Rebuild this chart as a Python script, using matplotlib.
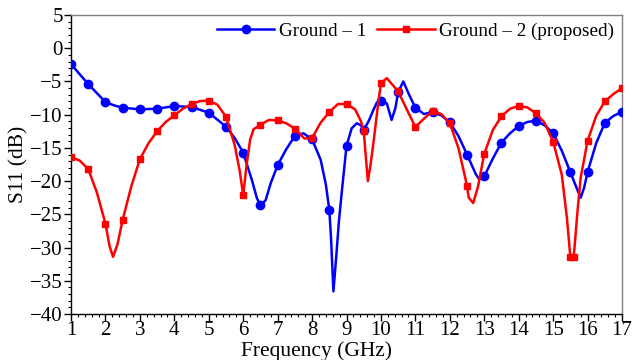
import matplotlib
matplotlib.use("Agg")
import matplotlib.pyplot as plt
from matplotlib.ticker import MultipleLocator

# ---- data ----
# Ground - 1 (blue): marker points (every 0.5 GHz)
g1_mk_f = [1.0, 1.5, 2.0, 2.5, 3.0, 3.5, 4.0, 4.5, 5.0, 5.5, 6.0, 6.5, 7.0, 7.5, 8.0, 8.5,
           9.0, 9.5, 10.0, 10.5, 11.0, 11.5, 12.0, 12.5, 13.0, 13.5, 14.0, 14.5, 15.0,
           15.5, 16.0, 16.5, 17.0]
g1_mk_v = [-2.4, -5.4, -8.1, -8.95, -9.2, -9.1, -8.7, -8.85, -9.7, -11.8, -15.7, -23.6,
           -17.6, -13.2, -13.7, -24.3, -14.7, -12.3, -8.0, -6.6, -8.95, -9.6, -11.15,
           -16.0, -19.3, -14.2, -11.7, -10.9, -12.75, -18.65, -18.65, -11.25, -9.55]
# Ground - 1: additional curve points between markers
g1_ex_f = [2.25, 5.75, 6.25, 6.4, 6.65, 6.8, 7.25, 7.75, 8.25, 8.4, 8.55, 8.62, 8.7,
           8.78, 8.86, 9.15, 9.3, 9.42, 9.65, 9.78, 9.88, 10.17, 10.31, 10.42, 10.65,
           10.8, 11.25, 11.75, 12.25, 12.75, 12.85, 13.25, 13.75, 14.25, 14.75, 15.25,
           15.68, 15.8, 15.9, 16.25, 16.75]
g1_ex_v = [-8.6, -13.5, -19.8, -22.6, -22.9, -20.3, -15.2, -12.8, -16.8, -20.5, -28.5,
           -36.6, -31.5, -26.0, -21.8, -12.05, -11.3, -11.6, -10.9, -9.3, -8.2, -8.3,
           -10.8, -9.0, -5.0, -6.8, -9.9, -10.1, -13.2, -18.9, -19.7, -16.6, -12.8,
           -11.1, -11.6, -15.4, -21.0, -22.5, -21.0, -14.3, -10.2]

# Ground - 2 (proposed, red): marker points
g2_mk_f = [1.0, 1.5, 2.0, 2.5, 3.0, 3.5, 4.0, 4.5, 5.0, 5.5, 6.0, 6.5, 7.0, 7.5, 8.0, 8.5,
           9.0, 9.5, 10.0, 10.5, 11.0, 11.5, 12.0, 12.5, 13.0, 13.5, 14.0, 14.5, 15.0,
           15.5, 15.6, 16.0, 16.5, 17.0]
g2_mk_v = [-16.4, -18.2, -26.4, -25.8, -16.7, -12.5, -10.1, -8.4, -7.9, -10.3, -22.1,
           -11.5, -10.85, -12.1, -13.5, -9.6, -8.4, -12.5, -5.3, -6.5, -11.85, -9.45,
           -11.3, -20.7, -15.9, -10.25, -8.7, -9.8, -14.05, -31.4, -31.4, -13.95, -8.0,
           -6.0]
# Ground - 2: additional curve points between markers
g2_ex_f = [1.25, 1.75, 2.12, 2.22, 2.35, 2.75, 3.25, 3.75, 4.25, 4.75, 5.25, 5.75, 5.9,
           6.1, 6.2, 6.3, 6.75, 7.25, 7.78, 8.25, 8.75, 9.25, 9.42, 9.62, 9.7, 9.8, 9.92,
           10.17, 10.75, 11.25, 11.75, 12.25, 12.55, 12.68, 12.82, 13.25, 13.75, 14.25,
           14.75, 15.25, 15.4, 15.7, 15.8, 16.25, 16.75]
g2_ex_v = [-16.9, -21.7, -29.8, -31.4, -29.5, -20.8, -14.3, -11.1, -9.1, -7.95, -8.5,
           -14.5, -18.5, -17.5, -13.8, -12.2, -10.8, -11.3, -13.6, -11.2, -8.4, -9.2,
           -11.0, -20.0, -17.5, -13.5, -8.3, -4.5, -9.2, -10.6, -9.9, -15.0, -22.5, -23.3,
           -20.8, -12.3, -9.1, -8.9, -11.2, -19.0, -25.5, -25.0, -19.5, -10.2, -6.9]

x_ticks = list(range(1, 18))
y_ticks = list(range(-40, 6, 5))

labels = ["Ground \u2013 1", "Ground \u2013 2 (proposed)"]


def merge(f1, v1, f2, v2):
    pts = sorted(zip(list(f1) + list(f2), list(v1) + list(v2)))
    return [p[0] for p in pts], [p[1] for p in pts]


g1_f, g1_v = merge(g1_mk_f, g1_mk_v, g1_ex_f, g1_ex_v)
g2_f, g2_v = merge(g2_mk_f, g2_mk_v, g2_ex_f, g2_ex_v)
g1_idx = [g1_f.index(f) for f in g1_mk_f]
g2_idx = [g2_f.index(f) for f in g2_mk_f]

plt.rcParams['font.family'] = ['Liberation Serif', 'DejaVu Serif']
plt.rcParams['mathtext.fontset'] = 'stix'

fig = plt.figure(figsize=(6.33, 3.60), dpi=100)
ax = fig.add_axes([0.1122, 0.1278, 0.8704, 0.8305])

ax.plot(g1_f, g1_v, color='#0000FF', lw=1.8, marker='o', ms=6,
        markevery=g1_idx, label=labels[0], zorder=3)
ax.plot(g2_f, g2_v, color='#FF0000', lw=1.8, marker='s', ms=4.5,
        markevery=g2_idx, label=labels[1], zorder=4)

ax.set_xlim(1, 17)
ax.set_ylim(-40, 5)
ax.set_xticks(x_ticks)
ax.set_yticks(y_ticks)
ax.xaxis.set_minor_locator(MultipleLocator(0.2))
ax.yaxis.set_minor_locator(MultipleLocator(1))
ax.tick_params(axis='both', which='major', direction='out', length=5, width=1,
               labelsize=15, pad=1, top=False, right=False)
ax.tick_params(axis='x', which='major', pad=0)
ax.tick_params(axis='both', which='minor', direction='out', length=2.5, width=0.8,
               top=False, right=False)

ax.set_xlabel("Frequency (GHz)", fontsize=15.5)
ax.xaxis.set_label_coords(0.445, -0.092)
ax.set_ylabel("S11 (dB)", fontsize=15.5, labelpad=1)

for side in ('top', 'right'):
    ax.spines[side].set_color('#808080')
    ax.spines[side].set_linewidth(1.0)
for side in ('left', 'bottom'):
    ax.spines[side].set_color('#000000')
    ax.spines[side].set_linewidth(1.0)

leg = ax.legend(loc='upper right', ncol=2, frameon=False, fontsize=13.8,
                handlelength=3.0, handletextpad=0.25, columnspacing=0.55,
                borderaxespad=0.1, borderpad=0.3)

fig.savefig("out.png", dpi=100)
